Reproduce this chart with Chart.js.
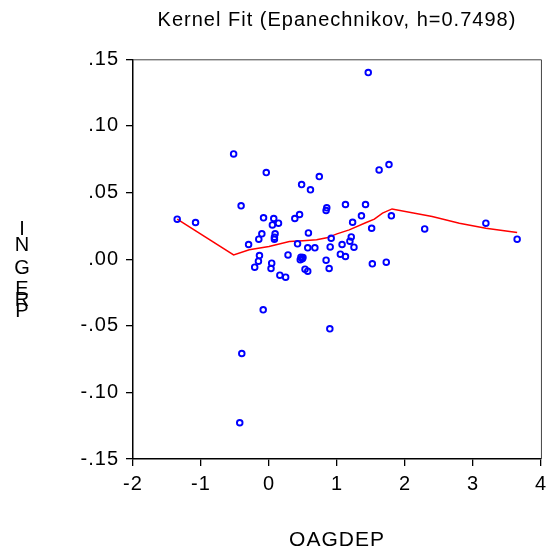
<!DOCTYPE html>
<html>
<head>
<meta charset="utf-8">
<script src="https://cdn.jsdelivr.net/npm/chart.js@4.4.0/dist/chart.umd.min.js"></script>
<style>
  html, body { margin: 0; padding: 0; background: #fff; }
  #wrap { width: 553px; height: 556px; position: relative; }
</style>
</head>
<body>
<div id="wrap"><canvas id="kernel-chart"></canvas></div>
<script>
(function () {
  "use strict";

  // observed points, OAGDEP (x) against INGERP (y)
  var oagdep = [
    -1.35, -1.08, -0.52, -0.41, -0.04, 0.48, 0.61, 0.74, 0.85, 0.84,
    -0.08, 0.07, 0.05, 0.14, 0.38, 0.45, -0.105, -0.15, -0.30, 0.09,
    0.08, 0.08, 0.58, 0.42, 0.57, 0.675, 0.915, 0.90, -0.14, -0.155,
    -0.21, 0.28, 0.04, 0.03, 0.47, 0.49, 0.46, 0.50, 0.53, 0.57,
    0.16, 0.245, 0.84, 0.885, 1.46, 1.62, 1.765, 1.125, 1.42, 1.36,
    1.23, 1.80, 1.51, 2.29, 3.19, 3.65, 1.21, 1.19, 1.075, 1.25,
    1.05, 1.125, 1.52, 1.725, -0.085, 0.895, -0.40, -0.43
  ];
  var ingerp = [
    0.030, 0.0275, 0.079, 0.040, 0.065, 0.056, 0.052, 0.062, 0.0385, 0.0365,
    0.031, 0.0305, 0.0257, 0.027, 0.0305, 0.0335, 0.019, 0.015, 0.011, 0.019,
    0.015, 0.0165, 0.0197, 0.0115, 0.0085, 0.0085, 0.0157, 0.0092, 0.0027, -0.0015,
    -0.006, 0.0032, -0.003, -0.007, 0.0015, 0.0003, -0.0005, 0.0012, -0.0075, -0.009,
    -0.012, -0.0135, -0.0008, -0.007, 0.140, 0.067, 0.071, 0.041, 0.041, 0.0325,
    0.0277, 0.0325, 0.0232, 0.0227, 0.027, 0.015, 0.0167, 0.0135, 0.011, 0.009,
    0.0037, 0.002, -0.0035, -0.0023, -0.038, -0.0523, -0.0708, -0.1228
  ];

  // Epanechnikov kernel fit curve
  var fitX = [-1.35, -0.52, -0.29, 0.0, 0.3, 0.5, 0.7, 0.85, 1.0, 1.18, 1.43, 1.55, 1.67, 1.81, 2.4, 2.8, 3.19, 3.65];
  var fitY = [0.030, 0.0032, 0.007, 0.0095, 0.0132, 0.0138, 0.0145, 0.016, 0.019, 0.022, 0.0275, 0.030, 0.0345, 0.0377, 0.032, 0.027, 0.0232, 0.020];

  var xTickLabels = ["-2", "-1", "0", "1", "2", "3", "4"];
  var yTickLabels = ["-.15", "-.10", "-.05", ".00", ".05", ".10", ".15"];
  var yTitleLetters = ["I", "N", "G", "E", "R", "P"];

  var FONT = "'Liberation Sans', Arial, Helvetica, sans-serif";
  var SPACING = "1px";

  function toPoints(xs, ys) {
    return xs.map(function (x, i) { return { x: x, y: ys[i] }; });
  }

  var spacingPlugin = {
    id: "spacing",
    beforeUpdate: function (chart) { chart.ctx.letterSpacing = SPACING; },
    beforeDraw: function (chart) { chart.ctx.letterSpacing = SPACING; }
  };

  var framePlugin = {
    id: "frame",
    afterDraw: function (chart) {
      var ctx = chart.ctx;
      var a = chart.chartArea;
      ctx.save();
      ctx.strokeStyle = "#444";
      ctx.lineWidth = 1;
      ctx.beginPath();
      ctx.moveTo(a.left, a.top + 0.5);
      ctx.lineTo(a.right + 0.5, a.top + 0.5);
      ctx.lineTo(a.right + 0.5, a.bottom);
      ctx.stroke();

      // stacked y title, as in the original
      var ys = [229, 245, 268, 289, 300, 311];
      ctx.fillStyle = "#000";
      ctx.font = "20px " + FONT;
      ctx.letterSpacing = "0px";
      ctx.textAlign = "center";
      ctx.textBaseline = "middle";
      yTitleLetters.forEach(function (ch, i) {
        ctx.fillText(ch, 22, ys[i]);
      });
      ctx.restore();
    }
  };

  var ctx = document.getElementById("kernel-chart");
  new Chart(ctx, {
    type: "scatter",
    data: {
      datasets: [
        {
          label: "INGERP",
          data: toPoints(oagdep, ingerp),
          showLine: false,
          pointStyle: "circle",
          pointRadius: 2.8,
          pointBorderWidth: 1.9,
          borderColor: "#0000ff",
          backgroundColor: "rgba(0,0,0,0)"
        },
        {
          label: "Kernel fit",
          data: toPoints(fitX, fitY),
          showLine: true,
          pointRadius: 0,
          borderColor: "#ff0000",
          borderWidth: 1.5,
          tension: 0,
          fill: false
        }
      ]
    },
    options: {
      responsive: true,
      maintainAspectRatio: false,
      animation: false,
      events: [],
      layout: { padding: { left: 0, right: 10, top: 0, bottom: 0 } },
      scales: {
        x: {
          type: "linear",
          min: -2,
          max: 4,
          afterFit: function (scale) { scale.height = 97; },
          ticks: {
            stepSize: 1,
            color: "#000",
            padding: 6,
            font: { family: FONT, size: 20 },
            callback: function (v) { return xTickLabels[Math.round(v + 2)]; }
          },
          grid: { drawOnChartArea: false, drawTicks: true, tickLength: 7, color: "#000", lineWidth: 1.3 },
          border: { display: true, color: "#000", width: 1.5 },
          title: {
            display: true,
            text: "OAGDEP",
            color: "#000",
            font: { family: FONT, size: 21 },
            padding: { top: 0, bottom: 3 }
          }
        },
        y: {
          type: "linear",
          min: -0.15,
          max: 0.15,
          afterFit: function (scale) { scale.width = 133; },
          ticks: {
            stepSize: 0.05,
            color: "#000",
            padding: 7,
            font: { family: FONT, size: 20 },
            callback: function (v) { return yTickLabels[Math.round((v + 0.15) / 0.05)]; }
          },
          grid: { drawOnChartArea: false, drawTicks: true, tickLength: 7, color: "#000", lineWidth: 1.3 },
          border: { display: true, color: "#000", width: 1.5 }
        }
      },
      plugins: {
        legend: { display: false },
        tooltip: { enabled: false },
        title: {
          display: true,
          fullSize: false,
          text: "Kernel Fit (Epanechnikov, h=0.7498)",
          color: "#000",
          font: { family: FONT, size: 20, weight: "normal" },
          padding: { top: 8, bottom: 27.3 }
        }
      }
    },
    plugins: [spacingPlugin, framePlugin]
  });
})();
</script>
</body>
</html>
